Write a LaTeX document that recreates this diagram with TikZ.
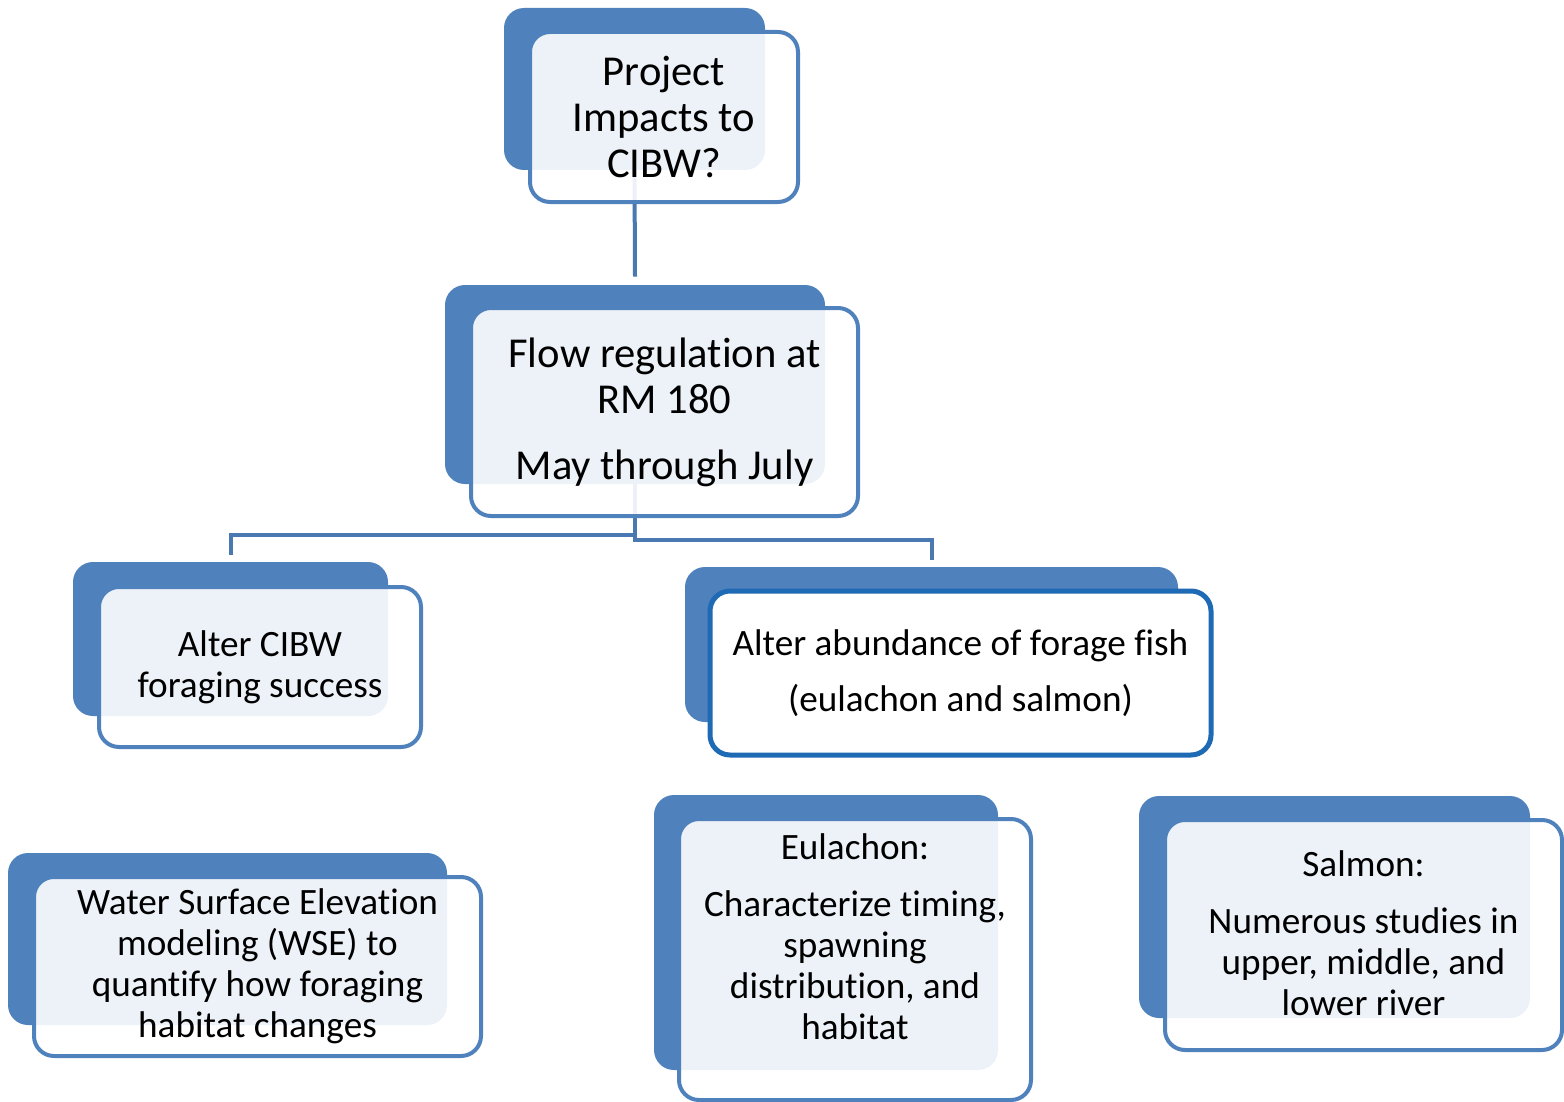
\documentclass[tikz,border=0pt]{standalone}
\usepackage{fontspec}
\setmainfont{Carlito}[Ligatures=NoCommon]
\usetikzlibrary{positioning}
\definecolor{boxblue}{RGB}{79,129,189}
\definecolor{linkblue}{RGB}{74,120,176}
\definecolor{deepblue}{RGB}{31,106,181}

\begin{document}
\begin{tikzpicture}[x=0.5pt,y=-0.5pt]
   \tikzset{back node/.style={rectangle, fill=boxblue,
   		rounded corners=10pt}, }
   \tikzset{front node/.style={rectangle, draw=boxblue, line width=2pt,
   		fill=white, fill opacity=0.9, rounded corners=10pt}, }
   \tikzset{key node/.style={rectangle, draw=deepblue, line width=2.5pt,
   		fill=white, rounded corners=10pt}, }
   \tikzset{big text/.style={align=center, text=black,
   		font=\fontsize{21.3}{23}\selectfont}, }
   \tikzset{small text/.style={align=center, text=black,
   		font=\fontsize{18.6}{20.5}\selectfont}, }
   \tikzset{linea/.style={draw=linkblue, line width=2pt},}

\useasboundingbox (0,0) rectangle (1564,1102);

% back boxes
\node[back node, minimum width=130.5pt, minimum height=81pt] (projB) at (634.5,89) {};
\node[back node, minimum width=190pt, minimum height=99.5pt] (flowB) at (635,384.5) {};
\node[back node, minimum width=157.5pt, minimum height=77pt] (cibwB) at (230.5,639) {};
\node[back node, minimum width=246.5pt, minimum height=77.5pt] (abunB) at (931.5,644.5) {};
\node[back node, minimum width=219.5pt, minimum height=86pt] (wseB) at (227.5,939) {};
\node[back node, minimum width=172pt, minimum height=137.5pt] (eulB) at (826,932.5) {};
\node[back node, minimum width=195.5pt, minimum height=111pt] (salB) at (1334.5,907) {};

% links
\path[linea] (projB.south) -- ([yshift=4pt]flowB.north);
\path[linea] (flowB.south) -- ++(0,51) -| ([yshift=3.5pt]cibwB.north);
\path[linea] (flowB.south) -- ++(0,56) -| ([yshift=3.5pt]abunB.north);

% front boxes
\node[front node, minimum width=134pt, minimum height=85pt] (projF) at (664,117) {};
\node[front node, minimum width=193.5pt, minimum height=104pt] (flowF) at (664.5,412) {};
\node[front node, minimum width=161pt, minimum height=80pt] (cibwF) at (260,667) {};
\node[key node, minimum width=250.5pt, minimum height=82pt] (abunF) at (960.5,673) {};
\node[front node, minimum width=223.5pt, minimum height=89.5pt] (wseF) at (257.5,966.5) {};
\node[front node, minimum width=176pt, minimum height=140.5pt] (eulF) at (855,959.5) {};
\node[front node, minimum width=198.5pt, minimum height=115pt] (salF) at (1363.5,935) {};

% texts
\node[big text] (projT) at (projF.center) {Project\\Impacts to\\CIBW?};
\node[big text] (flowT) at (flowF.center) {Flow regulation at\\RM 180\\[10pt]May through July};
\node[small text] (cibwT) at (cibwF.center) {Alter CIBW\\foraging success};
\node[small text, font=\fontsize{18.6}{28}\selectfont] (abunT) at (abunF.center) {Alter abundance of forage fish\\(eulachon and salmon)};
\node[small text] (wseT) at (wseF.center) {Water Surface Elevation\\modeling (WSE) to\\quantify how foraging\\habitat changes};
\node[small text] (eulT) at ([yshift=11.5pt]eulF.center) {Eulachon:\\[8pt]Characterize timing,\\spawning\\distribution, and\\habitat};
\node[small text] (salT) at ([yshift=1pt]salF.center) {Salmon:\\[8pt]Numerous studies in\\upper, middle, and\\lower river};
%
\end{tikzpicture}
\end{document}
